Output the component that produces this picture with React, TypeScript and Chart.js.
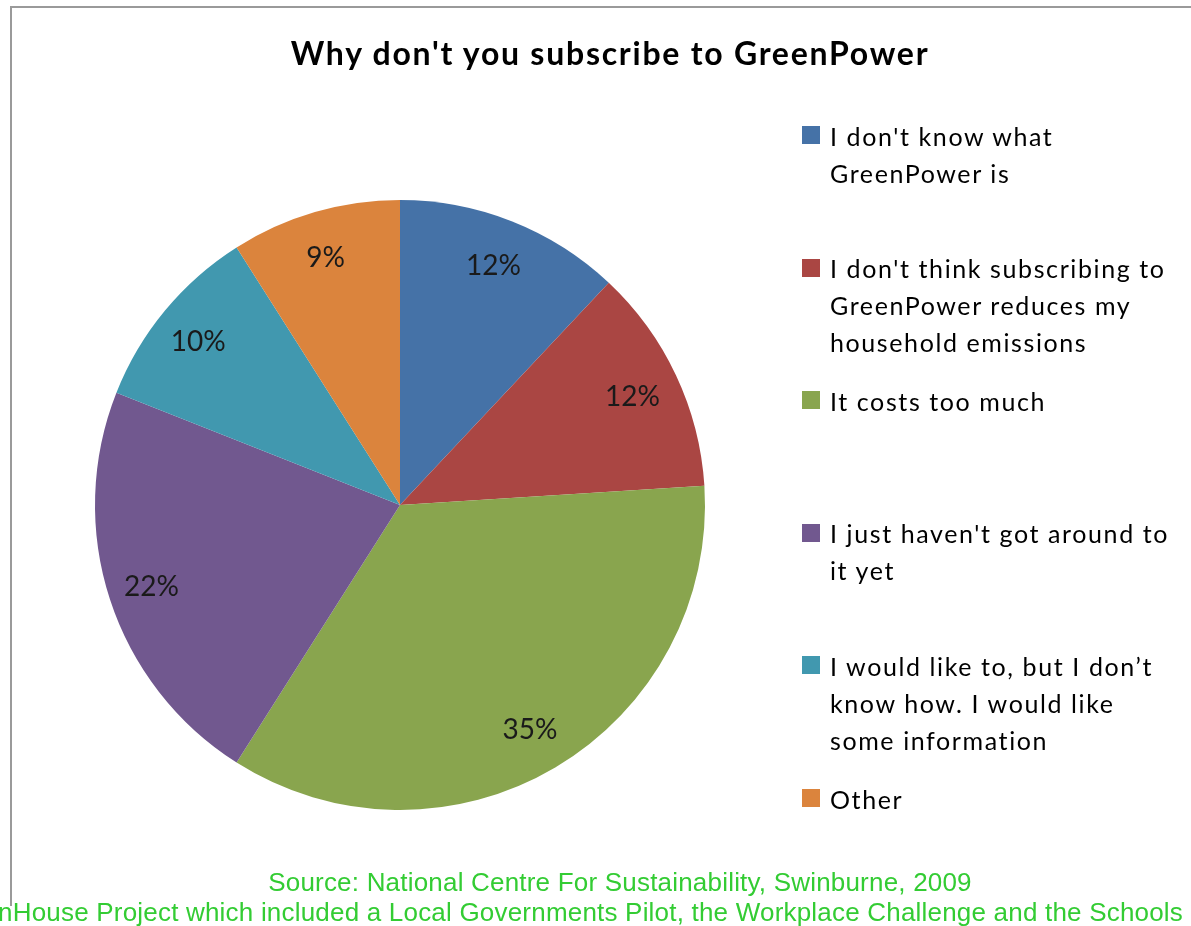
import React, { useEffect, useRef } from "react";
import { Chart, registerables } from "chart.js";

Chart.register(...registerables);

const TITLE = "Why don't you subscribe to GreenPower";
const categories: string[][] = [
  ["I don't know what", "GreenPower is"],
  ["I don't think subscribing to", "GreenPower reduces my", "household emissions"],
  ["It costs too much"],
  ["I just haven't got around to", "it yet"],
  ["I would like to, but I don\u2019t", "know how. I would like", "some information"],
  ["Other"],
];
const values = [12, 12, 35, 22, 10, 9];
const colors = ["#4572A7", "#AA4643", "#89A54E", "#71588F", "#4198AF", "#DB843D"];
const sourceLines = [
  "Source: National Centre For Sustainability, Swinburne, 2009",
  "nHouse Project which included a Local Governments Pilot, the Workplace Challenge and the Schools",
];

const FONT = "Lato, 'Open Sans', sans-serif";

const labelPlugin = {
  id: "pctLabels",
  afterDatasetsDraw(chart: any) {
    const ctx = chart.ctx;
    const meta = chart.getDatasetMeta(0);
    const data = chart.data.datasets[0].data as number[];
    ctx.save();
    ctx.font = `28px ${FONT}`;
    ctx.fillStyle = "#1a1a1a";
    ctx.textAlign = "center";
    ctx.textBaseline = "middle";
    meta.data.forEach((arc: any, i: number) => {
      const p = arc.getProps(["x", "y", "startAngle", "endAngle", "outerRadius"], true);
      const mid = (p.startAngle + p.endAngle) / 2;
      const r = p.outerRadius * 0.85;
      ctx.fillText(`${data[i]}%`, p.x + Math.cos(mid) * r - 2, p.y + Math.sin(mid) * r + 2);
    });
    ctx.restore();
  },
};

export default function App() {
  const ref = useRef<HTMLCanvasElement | null>(null);
  useEffect(() => {
    if (!ref.current) return;
    const chart = new Chart(ref.current, {
      type: "pie",
      data: {
        labels: categories.map((c) => c.join(" ")),
        datasets: [
          {
            data: values,
            backgroundColor: colors,
            borderWidth: 0,
          },
        ],
      },
      options: {
        responsive: false,
        animation: false,
        layout: { padding: { left: 95, top: 200, right: 486, bottom: 116 } },
        plugins: {
          legend: { display: false },
          title: { display: false },
          tooltip: { enabled: false },
        },
      },
      plugins: [labelPlugin],
    });
    return () => chart.destroy();
  }, []);

  return (
    <div
      style={{
        position: "absolute",
        left: 0,
        top: 0,
        width: 1191,
        height: 926,
        overflow: "hidden",
        background: "#fff",
        fontFamily: FONT,
      }}
    >
      <div
        style={{
          position: "absolute",
          left: 10,
          top: 6,
          width: 1300,
          height: 898,
          borderTop: "2px solid #9a9a9a",
          borderLeft: "2px solid #9a9a9a",
        }}
      />
      <canvas
        ref={ref}
        width={1191}
        height={926}
        style={{ position: "absolute", left: 0, top: 0, width: 1191, height: 926 }}
      />
      <div
        style={{
          position: "absolute",
          left: 10,
          width: 1200,
          top: 33,
          lineHeight: "40px",
          textAlign: "center",
          fontWeight: 700,
          fontSize: 32,
          letterSpacing: "1.75px",
          color: "#000",
          whiteSpace: "nowrap",
        }}
      >
        {TITLE}
      </div>
      {categories.map((lines, i) => {
        const cy = 136 + i * 132.6;
        return (
          <div key={i}>
            <div
              style={{
                position: "absolute",
                left: 802,
                top: cy - 10,
                width: 18,
                height: 18,
                background: colors[i],
              }}
            />
            <div
              style={{
                position: "absolute",
                left: 830,
                top: cy - 18.5,
                fontSize: 25,
                letterSpacing: "1.6px",
                lineHeight: "37px",
                color: "#000",
                whiteSpace: "nowrap",
              }}
            >
              {lines.map((l, j) => (
                <div key={j}>{l}</div>
              ))}
            </div>
          </div>
        );
      })}
      <div
        style={{
          position: "absolute",
          left: 0,
          width: 1240,
          top: 867,
          fontFamily: "'Liberation Sans', Arial, sans-serif",
          fontSize: 26,
          letterSpacing: "0.2px",
          lineHeight: "30px",
          color: "#33CC33",
          whiteSpace: "nowrap",
        }}
      >
        <div style={{ textAlign: "center" }}>{sourceLines[0]}</div>
        <div style={{ marginLeft: -2 }}>{sourceLines[1]}</div>
      </div>
    </div>
  );
}
